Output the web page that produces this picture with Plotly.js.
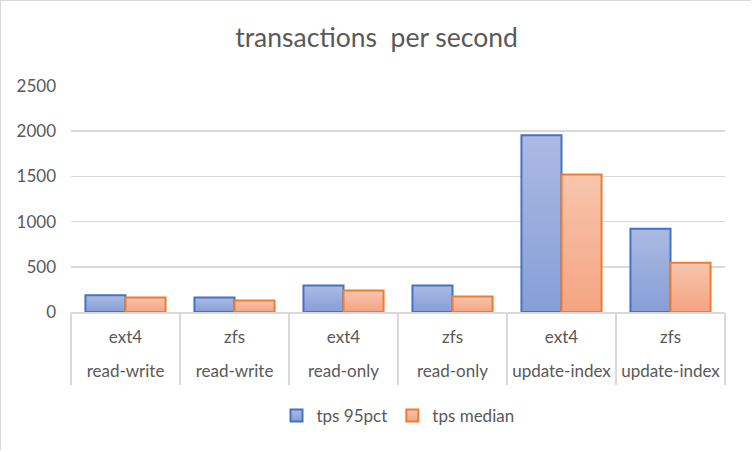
<!DOCTYPE html>
<html>
<head>
<meta charset="utf-8">
<script src="https://cdn.plot.ly/plotly-3.0.1.min.js"></script>
<style>
  html, body { margin: 0; padding: 0; background: #fff; }
  #chart { width: 751px; height: 450px; border: 1px solid #d9d9d9; box-sizing: border-box; }
</style>
</head>
<body>
<div id="chart"></div>
<script>
const fileSystems = ["ext4", "zfs", "ext4", "zfs", "ext4", "zfs"];
const workloads = ["read-write", "read-write", "read-only", "read-only", "update-index", "update-index"];
const tps95pct = [185, 160, 293, 293, 1956, 922];
const tpsMedian = [160, 127, 237, 171, 1522, 544];
const seriesNames = ["tps 95pct", "tps median"];

const cats = fileSystems.map((f, i) => f + " | " + workloads[i]);

const font = "Lato, 'Open Sans', sans-serif";
const grey = "#595959";
const fs = 17;

const traces = [
  {
    type: "bar", name: seriesNames[0], x: cats, y: tps95pct,
    marker: { color: "#99ACDC", line: { color: "#4472C4", width: 2 } },
    hoverinfo: "y+name"
  },
  {
    type: "bar", name: seriesNames[1], x: cats, y: tpsMedian,
    marker: { color: "#F6B496", line: { color: "#ED7D31", width: 2 } },
    hoverinfo: "y+name"
  },
  {
    type: "scatter", mode: "lines", x: cats, y: cats.map(() => 0), xaxis: "x2",
    opacity: 0, showlegend: false, hoverinfo: "skip", line: { width: 0 }
  },
  {
    type: "scatter", mode: "lines", x: cats, y: cats.map(() => 0), xaxis: "x3",
    opacity: 0, showlegend: false, hoverinfo: "skip", line: { width: 0 }
  }
];

const catAxis = {
  type: "category", categoryarray: cats, categoryorder: "array",
  range: [-0.5, 5.5], showgrid: false, zeroline: false
};

const layout = {
  width: 751, height: 450,
  margin: { l: 70, r: 27, t: 85, b: 139 },
  paper_bgcolor: "#ffffff", plot_bgcolor: "#ffffff",
  font: { family: font, color: grey, size: fs },
  title: {
    text: "transactions  per second",
    font: { family: font, size: 26.5, color: grey },
    x: 0.5, xanchor: "center", y: 0.918, yanchor: "middle"
  },
  barmode: "group", bargap: 0.265, bargroupgap: 0,
  xaxis: Object.assign({}, catAxis, {
    tickvals: cats, ticktext: fileSystems, ticks: "",
    showline: true, linecolor: "#d9d9d9", linewidth: 1.5,
    ticklabelstandoff: 9,
    tickfont: { family: font, size: fs, color: grey }
  }),
  xaxis2: Object.assign({}, catAxis, {
    overlaying: "x", anchor: "y", side: "bottom",
    showticklabels: false, ticks: "outside", tickson: "boundaries",
    ticklen: 72, tickwidth: 1.5, tickcolor: "#d9d9d9", showline: false
  }),
  xaxis3: Object.assign({}, catAxis, {
    overlaying: "x", anchor: "y", side: "bottom",
    tickvals: cats, ticktext: workloads, ticks: "", showline: false,
    ticklabelstandoff: 47,
    tickfont: { family: font, size: fs, color: grey }
  }),
  yaxis: {
    range: [0, 2500], dtick: 500, tick0: 0,
    showgrid: true, gridcolor: "#d9d9d9", gridwidth: 1.5,
    zeroline: false, showline: false, ticks: "",
    ticklabelstandoff: 14,
    tickfont: { family: font, size: fs, color: grey }
  },
  legend: {
    orientation: "h", x: 0.5, xanchor: "center", y: -0.46, yanchor: "middle",
    font: { family: font, size: fs, color: grey },
    itemwidth: 30, tracegroupgap: 0,
    itemclick: false, itemdoubleclick: false
  },
  showlegend: true
};

function addGradients(gd) {
  const svg = gd.querySelector(".main-svg");
  if (!svg) return;
  let defs = svg.querySelector("defs");
  if (!defs) { defs = document.createElementNS("http://www.w3.org/2000/svg", "defs"); svg.insertBefore(defs, svg.firstChild); }
  const grads = [
    { id: "gradBlue", top: "#ABBAE2", bottom: "#869FD7" },
    { id: "gradOrange", top: "#F8C5AE", bottom: "#F4A481" }
  ];
  grads.forEach(g => {
    const lg = document.createElementNS("http://www.w3.org/2000/svg", "linearGradient");
    lg.setAttribute("id", g.id);
    lg.setAttribute("x1", "0"); lg.setAttribute("y1", "0");
    lg.setAttribute("x2", "0"); lg.setAttribute("y2", "1");
    [[0, g.top], [1, g.bottom]].forEach(([o, c]) => {
      const s = document.createElementNS("http://www.w3.org/2000/svg", "stop");
      s.setAttribute("offset", String(o));
      s.setAttribute("stop-color", c);
      lg.appendChild(s);
    });
    defs.appendChild(lg);
  });
  const barTraces = gd.querySelectorAll(".barlayer .trace");
  barTraces.forEach((t, i) => {
    t.querySelectorAll(".point path").forEach(p => {
      p.style.fill = "url(#" + grads[i % 2].id + ")";
    });
  });
  const legendBars = gd.querySelectorAll(".legend .traces");
  legendBars.forEach((t, i) => {
    t.querySelectorAll(".legendpoints path").forEach(p => {
      p.style.fill = "url(#" + grads[i % 2].id + ")";
    });
  });
}

Plotly.newPlot("chart", traces, layout, { displayModeBar: false, staticPlot: true }).then(addGradients);
</script>
</body>
</html>
